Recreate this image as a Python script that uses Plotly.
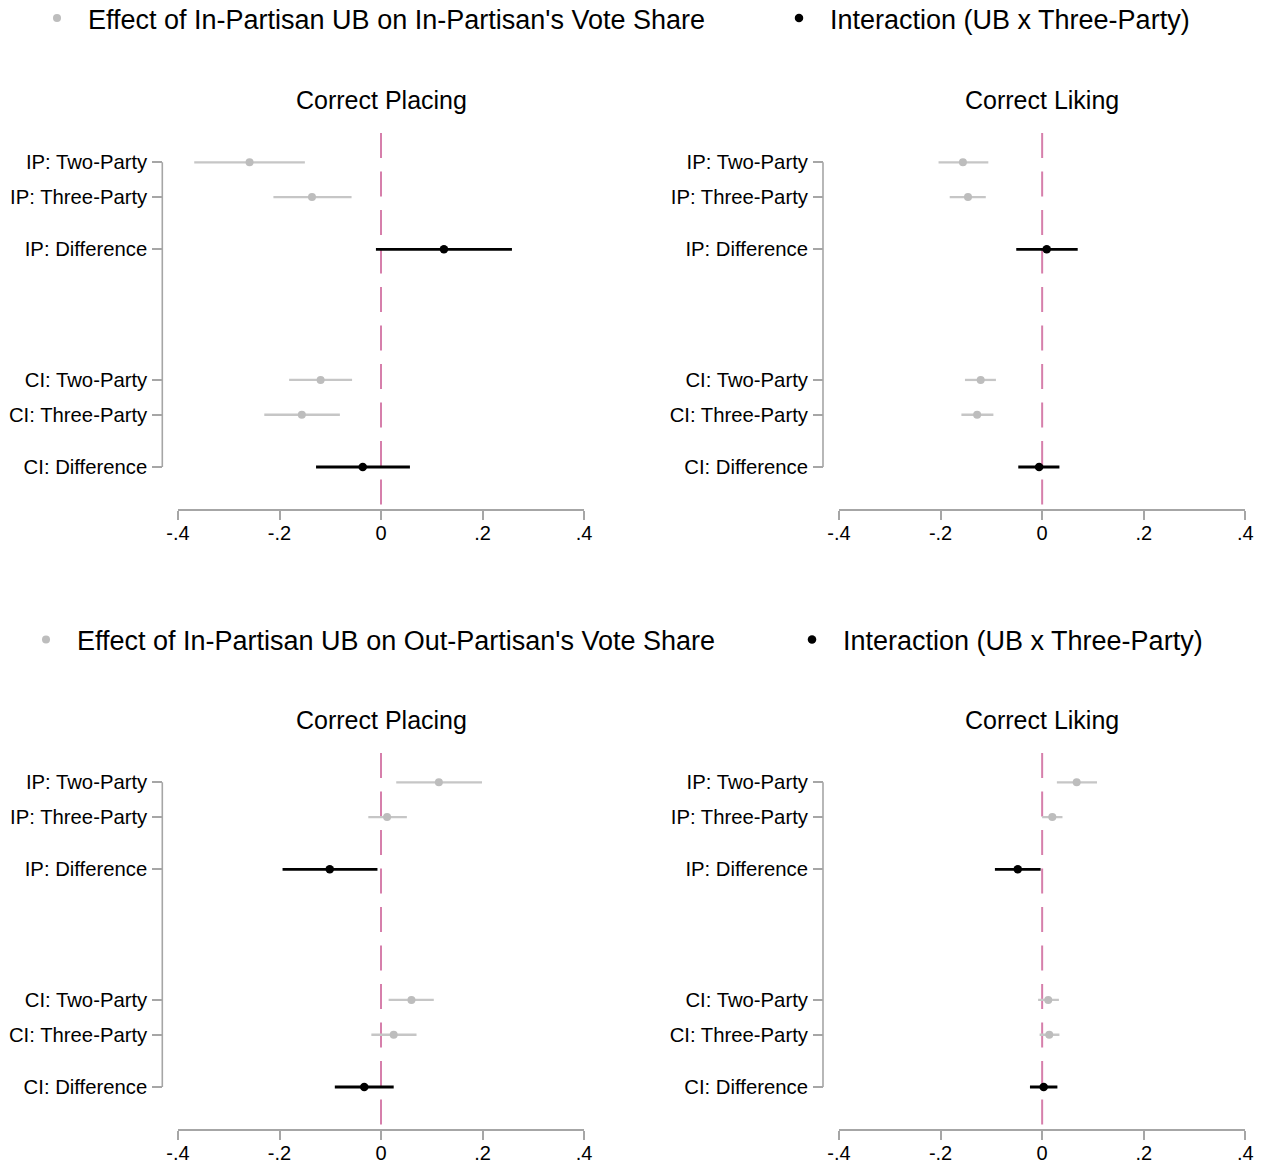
import plotly.graph_objects as go

# ---------------- data ----------------
ROW_LABELS = ["IP: Two-Party", "IP: Three-Party", "IP: Difference",
              "CI: Two-Party", "CI: Three-Party", "CI: Difference"]
ROW_KIND = ["effect", "effect", "interaction", "effect", "effect", "interaction"]

X_TICKVALS = [-0.4, -0.2, 0, 0.2, 0.4]
X_TICKTEXT = ["-.4", "-.2", "0", ".2", ".4"]

PANEL_TITLES = ["Correct Placing", "Correct Liking"]
LEGEND_TOP = ["Effect of In-Partisan UB on In-Partisan's Vote Share",
              "Interaction (UB x Three-Party)"]
LEGEND_BOTTOM = ["Effect of In-Partisan UB on Out-Partisan's Vote Share",
                 "Interaction (UB x Three-Party)"]

# In-Partisan vote share, Correct Placing
in_place_est = [-0.259, -0.136, 0.124, -0.119, -0.156, -0.036]
in_place_lo = [-0.368, -0.212, -0.010, -0.181, -0.230, -0.128]
in_place_hi = [-0.150, -0.058, 0.258, -0.057, -0.081, 0.057]
# In-Partisan vote share, Correct Liking
in_like_est = [-0.156, -0.146, 0.009, -0.121, -0.128, -0.006]
in_like_lo = [-0.204, -0.182, -0.051, -0.152, -0.159, -0.047]
in_like_hi = [-0.106, -0.111, 0.070, -0.091, -0.096, 0.034]
# Out-Partisan vote share, Correct Placing
out_place_est = [0.114, 0.012, -0.101, 0.060, 0.025, -0.033]
out_place_lo = [0.030, -0.025, -0.194, 0.015, -0.019, -0.091]
out_place_hi = [0.199, 0.051, -0.007, 0.104, 0.070, 0.025]
# Out-Partisan vote share, Correct Liking
out_like_est = [0.068, 0.020, -0.048, 0.012, 0.014, 0.003]
out_like_lo = [0.029, 0.000, -0.093, -0.008, -0.005, -0.024]
out_like_hi = [0.108, 0.040, -0.003, 0.033, 0.034, 0.030]

# ---------------- layout constants ----------------
ROW_POS = [0, 1, 2.5, 6.25, 7.25, 8.75]
W, H = 1262, 1162
FONT = "Liberation Sans, Arial, sans-serif"
GRAY_MK = "#bdbdbd"
GRAY_LN = "#c6c6c6"
BLACK = "#000000"
PINK = "#d67fab"
AXIS_GRAY = "#a6a6a6"

panels = [
    (in_place_est, in_place_lo, in_place_hi, 178, 584, 133, 509, 162.3, PANEL_TITLES[0], "legend", LEGEND_TOP, 675),
    (in_like_est, in_like_lo, in_like_hi, 839, 1245.3, 133, 509, 823, PANEL_TITLES[1], "legend", LEGEND_TOP, 675),
    (out_place_est, out_place_lo, out_place_hi, 178, 584, 753, 1129, 162.3, PANEL_TITLES[0], "legend2", LEGEND_BOTTOM, 699),
    (out_like_est, out_like_lo, out_like_hi, 839, 1245.3, 753, 1129, 823, PANEL_TITLES[1], "legend2", LEGEND_BOTTOM, 699),
]

ROW_UNIT_PX = 34.82
ROW0_OFFSET_PX = 29.3   # first row below plot-area top

fig = go.Figure()
layout = {}
shapes = []
annotations = []

for i, (est, lo, hi, xl, xr, yt, yb, yax_px, title, leg, names, lw) in enumerate(panels):
    n = i + 1
    xa = "x" if n == 1 else f"x{n}"
    ya = "y" if n == 1 else f"y{n}"
    xkey = "xaxis" if n == 1 else f"xaxis{n}"
    ykey = "yaxis" if n == 1 else f"yaxis{n}"

    y_range_top = -ROW0_OFFSET_PX / ROW_UNIT_PX
    y_range_bot = (yb - yt - ROW0_OFFSET_PX) / ROW_UNIT_PX

    for kind, mk_col, ln_col, ln_w, mk_size, nm, legw in [
        ("effect", GRAY_MK, GRAY_LN, 2.3, 8, names[0], lw),
        ("interaction", BLACK, BLACK, 2.8, 8.5, names[1], None),
    ]:
        idx = [k for k, kk in enumerate(ROW_KIND) if kk == kind]
        xs = [est[k] for k in idx]
        ys = [ROW_POS[k] for k in idx]
        plus = [hi[k] - est[k] for k in idx]
        minus = [est[k] - lo[k] for k in idx]
        tr = dict(
            x=xs, y=ys, mode="markers", name=nm,
            xaxis=xa, yaxis=ya,
            marker=dict(color=mk_col, size=mk_size, line=dict(width=0)),
            error_x=dict(type="data", symmetric=False, array=plus, arrayminus=minus,
                         width=0, thickness=ln_w, color=ln_col),
            showlegend=(i in (0, 2)), legend=leg, hoverinfo="skip",
        )
        if legw is not None:
            tr["legendwidth"] = legw
        fig.add_trace(go.Scatter(**tr))

    layout[xkey] = dict(
        domain=[xl / W, xr / W], range=[-0.4, 0.4], anchor=ya,
        tickmode="array", tickvals=X_TICKVALS, ticktext=X_TICKTEXT,
        showgrid=False, zeroline=False, showline=True, linecolor=AXIS_GRAY, linewidth=1.6,
        ticks="outside", ticklen=9, tickwidth=1.6, tickcolor=AXIS_GRAY,
        ticklabelstandoff=-4,
        tickfont=dict(family=FONT, size=20, color="#000"), automargin=False,
    )
    layout[ykey] = dict(
        domain=[1 - yb / H, 1 - yt / H], range=[y_range_bot, y_range_top],
        anchor="free", position=yax_px / W,
        tickmode="array", tickvals=ROW_POS, ticktext=ROW_LABELS,
        showgrid=False, zeroline=False, showline=False,
        ticks="outside", ticklen=10, tickwidth=1.6, tickcolor=AXIS_GRAY,
        ticklabelstandoff=1,
        tickfont=dict(family=FONT, size=20.3, color="#000"), automargin=False,
    )
    xdom_w = (xr - xl)
    shapes.append(dict(type="line", xref=f"{xa} domain", yref=ya,
                       x0=(yax_px - xl) / xdom_w, x1=(yax_px - xl) / xdom_w,
                       y0=ROW_POS[0], y1=ROW_POS[-1],
                       line=dict(color=AXIS_GRAY, width=1.6)))
    shapes.append(dict(type="line", xref=xa, yref=f"{ya} domain",
                       x0=0, x1=0, y0=1, y1=0,
                       line=dict(color=PINK, width=2, dash="25px,13.5px"),
                       layer="below"))
    annotations.append(dict(text=title, xref=xa, x=0, yref="paper",
                            y=1 - (yt - 33) / H, xanchor="center", yanchor="middle",
                            showarrow=False, font=dict(family=FONT, size=25, color="#000")))

fig.update_layout(
    width=W, height=H, margin=dict(l=0, r=0, t=0, b=0, autoexpand=False),
    paper_bgcolor="white", plot_bgcolor="white",
    shapes=shapes, annotations=annotations,
    font=dict(family=FONT, color="#000"),
    legend=dict(orientation="h", x=26 / W, y=1 + 6 / H, xanchor="left", yanchor="top",
                itemwidth=52,
                font=dict(family=FONT, size=27, color="#000"), bgcolor="rgba(0,0,0,0)"),
    legend2=dict(orientation="h", x=15 / W, y=1 - 640 / H, xanchor="left", yanchor="middle",
                 itemwidth=52,
                 font=dict(family=FONT, size=27, color="#000"), bgcolor="rgba(0,0,0,0)"),
    **layout,
)

fig.write_html("out.html", config={"displayModeBar": False},
               post_script="document.body.style.margin='0px';document.body.style.overflow='hidden';")
